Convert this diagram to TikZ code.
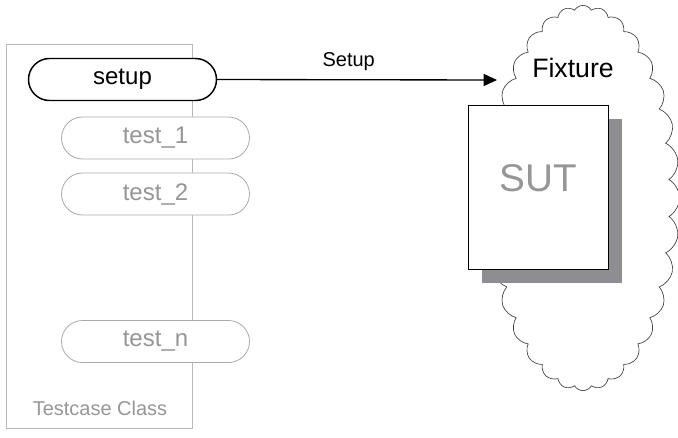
\documentclass[tikz,border=0pt]{standalone}
\usepackage{fontspec}
\setmainfont{Liberation Sans}
\usetikzlibrary{shapes.misc,shapes.symbols,shadows,arrows.meta}
\definecolor{pillgray}{RGB}{170,170,170}
\definecolor{textgray}{RGB}{150,150,150}
\definecolor{boxgray}{RGB}{185,185,185}
\definecolor{shadowgray}{RGB}{142,142,146}
\begin{document}
\begin{tikzpicture}[x=0.75pt, y=-0.75pt,
	pill/.style={rounded rectangle, draw=pillgray, fill=white, line width=0.6pt, text=textgray,
		minimum width=141pt, minimum height=31.5pt, inner sep=0pt, font=\fontsize{18}{20}\selectfont},
	classbox/.style={rectangle, draw=boxgray, line width=0.6pt, minimum width=140pt, minimum height=288pt, inner sep=0pt},
	sutbox/.style={rectangle, draw=black, fill=white, line width=0.5pt, minimum width=105pt, minimum height=123pt, inner sep=0pt,
		drop shadow={shadow xshift=10.5pt, shadow yshift=-10.5pt, fill=shadowgray, opacity=1}},
	cloudy/.style={cloud, draw=black!75, line width=0.5pt, cloud puffs=32, cloud puff arc=120, cloud ignores aspect,
		minimum width=145pt, minimum height=289pt, inner sep=0pt}]
	\useasboundingbox (0,0) rectangle (678,437);
	% testcase class with its methods
	\node[classbox] (tcclass) at (99.5,236) {};
	\node[text=textgray, font=\fontsize{15}{17}\selectfont] (tclabel) at (100,408) {Testcase Class};
	\node[pill, draw=black, line width=1.1pt, text=black] (setup) at (122.5,79.5) {setup};
	\node[pill] (test1) at (155.5,138) {test\_1};
	\node[pill] (test2) at (155.5,194) {test\_2};
	\node[pill] (testn) at (155.5,341.5) {test\_n};
	% fixture cloud and SUT
	\node[cloudy] (fixture) at (583,198) {};
	\node[font=\fontsize{20}{22}\selectfont] (fixlabel) at (573,68) {Fixture};
	\node[sutbox] (sut) at (538,187) {};
	\node[text=textgray, font=\fontsize{29}{32}\selectfont] (sutlabel) at (538,178) {SUT};
	\coordinate (fixin) at (497,80);
	\draw[line width=1pt, -{Triangle[length=10pt, width=9pt]}] (setup.east) -- node[pos=0.47, above=3pt, font=\fontsize{15}{17}\selectfont] {Setup} (fixin);
\end{tikzpicture}
\end{document}
